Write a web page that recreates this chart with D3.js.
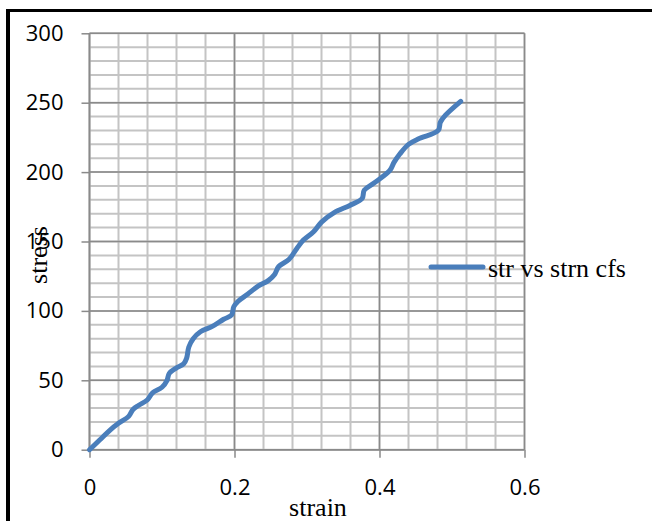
<!DOCTYPE html>
<html>
<head>
<meta charset="utf-8">
<script src="https://cdn.jsdelivr.net/npm/d3@7/dist/d3.min.js"></script>
<style>
  html, body { margin: 0; padding: 0; background: #ffffff; }
  svg { display: block; }
</style>
</head>
<body>
<svg id="chart" width="652" height="521"></svg>
<script>
// ---- data ----
const strain = [0.000, 0.014, 0.028, 0.040, 0.054, 0.060, 0.068, 0.080, 0.087, 0.100,
                0.107, 0.110, 0.120, 0.130, 0.134, 0.137, 0.143, 0.153, 0.170, 0.185,
                0.196, 0.199, 0.205, 0.218, 0.233, 0.247, 0.255, 0.261, 0.275, 0.286,
                0.295, 0.309, 0.320, 0.338, 0.359, 0.376, 0.379, 0.392, 0.414, 0.420,
                0.428, 0.440, 0.454, 0.481, 0.484, 0.491, 0.512];
const stress = [0, 7, 14, 19, 24, 29, 32, 36, 41, 45,
                50, 55, 59, 62, 66, 74, 80, 85, 89, 94,
                97, 103, 107, 112, 118, 122, 126, 132, 137, 145,
                151, 157, 164, 171, 176, 181, 187, 192, 201, 207,
                213, 220, 224, 230, 236, 241, 251];
const seriesName = "str vs strn cfs";
const xTicks = [0, 0.2, 0.4, 0.6];
const xTickLabels = ["0", "0.2", "0.4", "0.6"];
const yTicks = [0, 50, 100, 150, 200, 250, 300];
const yTickLabels = ["0", "50", "100", "150", "200", "250", "300"];
const xMinor = d3.range(0, 0.6001, 0.04);
const yMinor = d3.range(0, 300.01, 10);
const xTitle = "strain";
const yTitle = "stress";

// ---- layout ----
const svg = d3.select("#chart");
const x = d3.scaleLinear().domain([0, 0.6]).range([89.5, 524.5]);
const y = d3.scaleLinear().domain([0, 300]).range([449.7, 33.3]);

// frame
svg.append("rect").attr("x", 6).attr("y", 9).attr("width", 646).attr("height", 3).attr("fill", "#000");
svg.append("rect").attr("x", 6).attr("y", 9).attr("width", 4).attr("height", 512).attr("fill", "#000");

// minor gridlines
const g = svg.append("g");
g.selectAll("line.vmin").data(xMinor).enter().append("line")
  .attr("x1", d => x(d)).attr("x2", d => x(d))
  .attr("y1", y(0)).attr("y2", y(300))
  .attr("stroke", "#c4c4c4").attr("stroke-width", 2);
g.selectAll("line.hmin").data(yMinor).enter().append("line")
  .attr("x1", x(0)).attr("x2", x(0.6))
  .attr("y1", d => y(d)).attr("y2", d => y(d))
  .attr("stroke", "#c4c4c4").attr("stroke-width", 2);
// major gridlines
g.selectAll("line.vmaj").data(xTicks).enter().append("line")
  .attr("x1", d => x(d)).attr("x2", d => x(d))
  .attr("y1", y(0)).attr("y2", y(300))
  .attr("stroke", "#8a8a8a").attr("stroke-width", 1.5);
g.selectAll("line.hmaj").data(yTicks).enter().append("line")
  .attr("x1", x(0)).attr("x2", x(0.6))
  .attr("y1", d => y(d)).attr("y2", d => y(d))
  .attr("stroke", "#8a8a8a").attr("stroke-width", 1.5);

// axes
const xAxis = d3.axisBottom(x).tickValues(xTicks).tickSize(8).tickPadding(22)
  .tickFormat((d, i) => xTickLabels[i]);
const yAxis = d3.axisLeft(y).tickValues(yTicks).tickSize(8).tickPadding(18)
  .tickFormat((d, i) => yTickLabels[i]);

const gx = svg.append("g").attr("transform", `translate(0,${y(0)})`).call(xAxis);
const gy = svg.append("g").attr("transform", `translate(${x(0)},0)`).call(yAxis);
[gx, gy].forEach(a => {
  a.select(".domain").attr("stroke", "#8a8a8a").attr("stroke-width", 1.5);
  a.selectAll(".tick line").attr("stroke", "#8a8a8a").attr("stroke-width", 1.5);
  a.selectAll(".tick text").attr("fill", "#000")
    .style("font-family", "'Open Sans', 'Noto Sans', sans-serif").style("font-size", "22px");
});
gx.select(".domain").attr("d", `M${x(0)},0H${x(0.6)}`);
gy.select(".domain").attr("d", `M0,${y(0)}V${y(300)}`);

// line
const pts = strain.map((s, i) => [s, stress[i]]);
const line = d3.line().x(d => x(d[0])).y(d => y(d[1])).curve(d3.curveCatmullRom.alpha(0.5));
svg.append("path").datum(pts).attr("d", line)
  .attr("fill", "none").attr("stroke", "#4A7EBB").attr("stroke-width", 5)
  .attr("stroke-linecap", "round").attr("stroke-linejoin", "round");

// titles
svg.append("text").attr("x", 318).attr("y", 516).attr("text-anchor", "middle")
  .style("font-family", "'Liberation Serif', 'Times New Roman', serif").style("font-size", "26px")
  .attr("fill", "#000").text(xTitle);
svg.append("text").attr("transform", "translate(47,255) rotate(-90)").attr("text-anchor", "middle")
  .style("font-family", "'Liberation Serif', 'Times New Roman', serif").style("font-size", "26px")
  .attr("fill", "#000").text(yTitle);

// legend
svg.append("line").attr("x1", 431).attr("x2", 483).attr("y1", 267).attr("y2", 267)
  .attr("stroke", "#4A7EBB").attr("stroke-width", 5).attr("stroke-linecap", "round");
svg.append("text").attr("x", 488).attr("y", 277)
  .style("font-family", "'Liberation Serif', 'Times New Roman', serif").style("font-size", "26px")
  .attr("fill", "#000").text(seriesName);
</script>
</body>
</html>
